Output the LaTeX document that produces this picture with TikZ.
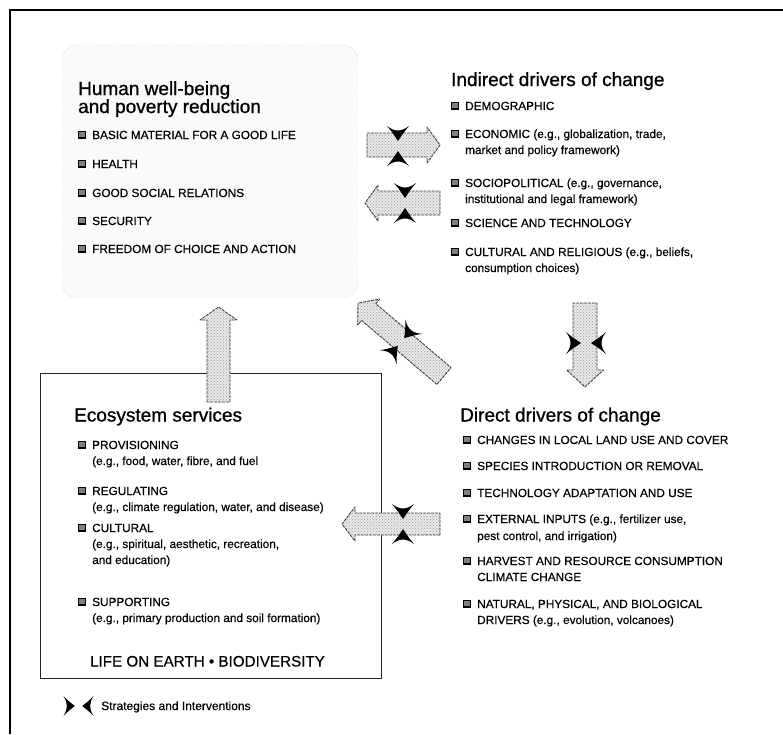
\documentclass[tikz,border=0pt]{standalone}
\usepackage{fontspec}
\setmainfont{Liberation Sans}
\newfontfamily\ttlfont{Liberation Sans}[FakeBold=0.9]
\newfontfamily\itmfont{Liberation Sans}[FakeBold=0.4]
\usetikzlibrary{calc,patterns}
\tikzset{
 ttl/.style={anchor=base west, inner sep=0pt, font=\ttlfont\fontsize{19}{19}\selectfont},
 itm/.style={anchor=base west, inner sep=0pt, font=\itmfont\fontsize{11.8}{14}\selectfont},
 bul/.style={draw=black, line width=1.3pt, fill=black!50, minimum size=6.5pt, inner sep=0pt},
 blockarr/.style={preaction={fill=gray!18}, pattern=crosshatch dots, pattern color=gray!75,
   draw=black!75, line width=0.9pt, dash pattern=on 3pt off 1pt, line join=round},
 hbox/.style={draw=gray!50, densely dotted, fill=gray!4, rounded corners=15pt, inner sep=0pt},
 ebox/.style={draw=black!85, line width=1pt, fill=white, inner sep=0pt},
 strat/.pic={
   \fill (-20,-11) .. controls (-14,-6) .. (-5,0) .. controls (-14,6) .. (-20,11) .. controls (-14,3) and (-14,-3) .. (-20,-11) -- cycle;
   \fill (20,-11) .. controls (14,-6) .. (5,0) .. controls (14,6) .. (20,11) .. controls (14,3) and (14,-3) .. (20,-11) -- cycle;
 },
}
\newcommand\bitem[4]{%
  \node[bul] (#1b) at (#2-10,#3-4.3) {};
  \node[itm] (#1) at (#2,#3) {#4};
}
\newcommand\iline[4]{%
  \node[itm] (#1) at (#2,#3) {#4};
}
\newcommand\blockarrow[5]{%
  \coordinate (bah) at ($(#2)!#5pt!(#1)$);
  \path[blockarr] ($(#1)!#3pt!90:(#2)$) -- ($(bah)!#3pt!90:(#2)$) -- ($(bah)!#4pt!90:(#2)$) -- (#2) -- ($(bah)!#4pt!-90:(#2)$) -- ($(bah)!#3pt!-90:(#2)$) -- ($(#1)!#3pt!-90:(#2)$) -- cycle;
}
\begin{document}
\begin{tikzpicture}[x=1pt,y=-1pt]
\useasboundingbox (0,0) rectangle (783,734);
\draw[line width=1.5pt] (10,734) -- (10,10) -- (783,10);

% Human well-being box
\node[hbox, minimum width=296pt, minimum height=253pt] (hw) at (210,171.5) {};
\node[ttl] (hwt1) at (78,95) {Human well-being};
\node[ttl] (hwt2) at (78,113) {and poverty reduction};
\bitem{h1}{92}{139}{BASIC MATERIAL FOR A GOOD LIFE}
\bitem{h2}{92}{168}{HEALTH}
\bitem{h3}{92}{197}{GOOD SOCIAL RELATIONS}
\bitem{h4}{92}{225}{SECURITY}
\bitem{h5}{92}{253}{FREEDOM OF CHOICE AND ACTION}

% Indirect drivers
\node[ttl] (ind) at (451,86) {Indirect drivers of change};
\bitem{i1}{465}{110}{DEMOGRAPHIC}
\bitem{i2}{465}{138}{ECONOMIC (e.g., globalization, trade,}
\iline{i2b}{465}{154}{market and policy framework)}
\bitem{i3}{465}{187}{SOCIOPOLITICAL (e.g., governance,}
\iline{i3b}{465}{203}{institutional and legal framework)}
\bitem{i4}{465}{227}{SCIENCE AND TECHNOLOGY}
\bitem{i5}{465}{256}{CULTURAL AND RELIGIOUS (e.g., beliefs,}
\iline{i5b}{465}{272}{consumption choices)}

% Direct drivers
\node[ttl] (dir) at (460,421.5) {Direct drivers of change};
\bitem{d1}{477}{444}{CHANGES IN LOCAL LAND USE AND COVER}
\bitem{d2}{477}{470}{SPECIES INTRODUCTION OR REMOVAL}
\bitem{d3}{477}{497}{TECHNOLOGY ADAPTATION AND USE}
\bitem{d4}{477}{523}{EXTERNAL INPUTS (e.g., fertilizer use,}
\iline{d4b}{477}{540}{pest control, and irrigation)}
\bitem{d5}{477}{565}{HARVEST AND RESOURCE CONSUMPTION}
\iline{d5b}{477}{581}{CLIMATE CHANGE}
\bitem{d6}{477}{608}{NATURAL, PHYSICAL, AND BIOLOGICAL}
\iline{d6b}{477}{624}{DRIVERS (e.g., evolution, volcanoes)}

% Ecosystem services box
\node[ebox, minimum width=341pt, minimum height=305pt] (eco) at (210.5,525.5) {};
\node[ttl] (ecot) at (74,421.5) {Ecosystem services};
\bitem{e1}{92}{449}{PROVISIONING}
\iline{e1b}{92}{465}{(e.g., food, water, fibre, and fuel}
\bitem{e2}{92}{495}{REGULATING}
\iline{e2b}{92}{511}{(e.g., climate regulation, water, and disease)}
\bitem{e3}{92}{532}{CULTURAL}
\iline{e3b}{92}{548}{(e.g., spiritual, aesthetic, recreation,}
\iline{e3c}{92}{564}{and education)}
\bitem{e4}{92}{606}{SUPPORTING}
\iline{e4b}{92}{622}{(e.g., primary production and soil formation)}
\node[anchor=base, inner sep=0pt, font=\itmfont\fontsize{15.2}{16}\selectfont] (life) at (207.5,666.5) {LIFE ON EARTH \textbullet{} BIODIVERSITY};

% arrow end points
\coordinate (a1s) at (367,145);  \coordinate (a1e) at (440,145);
\coordinate (a2s) at (440,203);  \coordinate (a2e) at (365,203);
\coordinate (a3s) at (585,303);  \coordinate (a3e) at (585,387);
\coordinate (a4s) at (444,376);  \coordinate (a4e) at (358,303);
\coordinate (a5s) at (440,524);  \coordinate (a5e) at (342,524);
\coordinate (a6s) at (218.5,402); \coordinate (a6e) at (218.5,307);

\blockarrow{a1s}{a1e}{12}{18}{13}
\blockarrow{a2s}{a2e}{12}{18}{13}
\blockarrow{a3s}{a3e}{12}{18.5}{17}
\blockarrow{a4s}{a4e}{11}{17}{14}
\blockarrow{a5s}{a5e}{11}{17}{13}
\blockarrow{a6s}{a6e}{11.5}{18.5}{13}

% strategies and interventions
\pic[rotate=90] at (398,146) {strat};
\pic[rotate=90] at (405,203) {strat};
\pic at (586,343) {strat};
\pic[rotate=50] at (401,342) {strat};
\pic[rotate=90] at (403,524) {strat};

% legend
\pic[xscale=0.75, yscale=0.9] at (78.5,706) {strat};
\node[itm, font=\itmfont\fontsize{12}{14}\selectfont] (leg) at (101,710) {Strategies and Interventions};
\end{tikzpicture}
\end{document}
